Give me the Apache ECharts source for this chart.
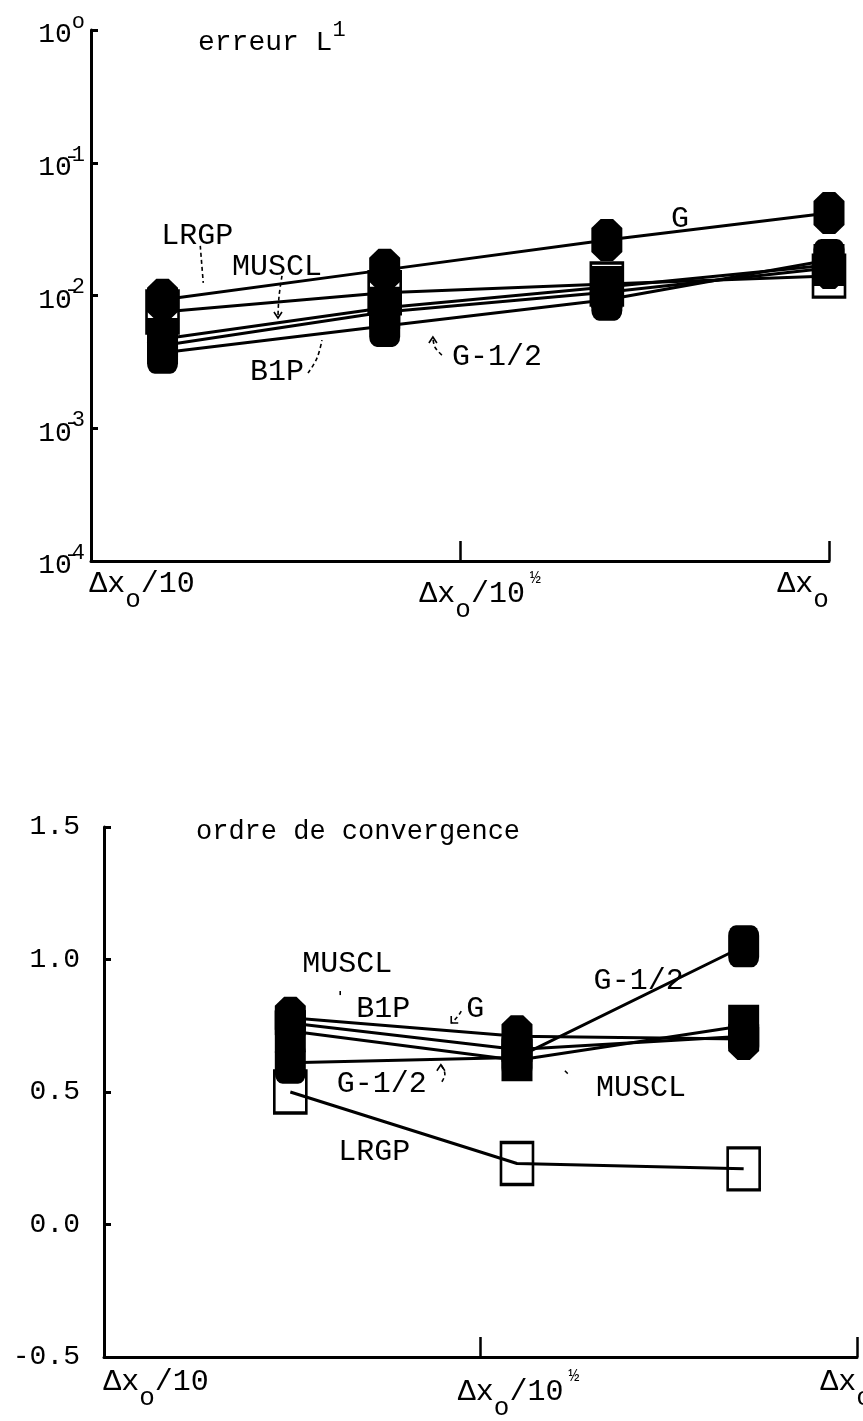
<!DOCTYPE html>
<html>
<head>
<meta charset="utf-8">
<script src="https://cdn.jsdelivr.net/npm/echarts@6/dist/echarts.min.js"></script>
<style>
  html, body { margin: 0; padding: 0; background: #fff; overflow: hidden; }
  #chart { width: 920px; height: 1421px; }
</style>
</head>
<body>
<div id="chart"></div>
<script>
// Mesh sizes, as fractions of the coarse step Δx0
const meshFractions = [1 / 8, 1 / 4, 1 / 2, 1];

// L1 error for each scheme on the four meshes
const errLRGP  = [0.0075, 0.0105, 0.0122, 0.0140];
const errMUSCL = [0.0047, 0.0081, 0.0116, 0.0170];
const errB1P   = [0.0042, 0.0075, 0.0106, 0.0161];
const errGhalf = [0.0037, 0.0059, 0.0093, 0.0185];
const errG     = [0.0093, 0.0156, 0.0262, 0.0418];

// Observed order of convergence between consecutive meshes
const ordLRGP  = [0.50, 0.23, 0.21];
const ordMUSCL = [0.73, 0.62, 0.75];
const ordB1P   = [0.76, 0.66, 0.71];
const ordGhalf = [0.61, 0.63, 1.05];
const ordG     = [0.78, 0.71, 0.70];

// Axis ticks
const errTicks = [1, 0.1, 0.01, 0.001, 0.0001];
const orderTicks = [-0.5, 0.0, 0.5, 1.0, 1.5];
// x tick labels: [base, subscript, denominator, exponent]
const xTickLabels = [
  ['Δx', 'o', '/10', ''],
  ['Δx', 'o', '/10', '½'],
  ['Δx', 'o', '', '']
];

const FONT = '"Liberation Mono", "DejaVu Sans Mono", monospace';
const INK = '#000';
const OCT = 'path://M3,0 L7,0 L10,3 L10,11 L7,14 L3,14 L0,11 L0,3 Z';

const xErr = meshFractions.map(f => Math.log10(f));
const xOrd = xErr.slice(1).map((v, i) => (v + xErr[i]) / 2);

const schemes = [
  { name: 'LRGP',  err: errLRGP,  ord: ordLRGP,  symbol: 'rect',  open: true },
  { name: 'MUSCL', err: errMUSCL, ord: ordMUSCL, symbol: 'rect' },
  { name: 'B1P',   err: errB1P,   ord: ordB1P,   symbol: OCT },
  { name: 'G-1/2', err: errGhalf, ord: ordGhalf, symbol: 'roundRect' },
  { name: 'G',     err: errG,     ord: ordG,     symbol: OCT }
];

function makeSeries(s, gridIdx, xs, ys) {
  return {
    type: 'line',
    name: s.name,
    xAxisIndex: gridIdx,
    yAxisIndex: gridIdx,
    data: xs.map((x, i) => [x, ys[i]]),
    symbol: s.symbol,
    symbolSize: s.open ? [32, 42] : [31, 42],
    showSymbol: true,
    lineStyle: { color: INK, width: 3 },
    itemStyle: s.open
      ? { color: 'rgba(255,255,255,0)', borderColor: INK, borderWidth: 3 }
      : { color: INK, borderColor: INK, borderWidth: 0 },
    emphasis: { disabled: true },
    animation: false
  };
}

const series = [];
schemes.forEach(s => series.push(makeSeries(s, 0, xErr, s.err)));
schemes.forEach(s => series.push(makeSeries(s, 1, xOrd, s.ord)));

// Rich styles for the Δx tick labels; the p*/q* tokens are blank spacers that shift each label off its tick
const xRich = {
  b:   { fontFamily: FONT, fontSize: 30, color: INK, verticalAlign: 'bottom', padding: [0, 0, 14, 0] },
  sub: { fontFamily: FONT, fontSize: 26, color: INK, verticalAlign: 'bottom' },
  sup: { fontFamily: FONT, fontSize: 18, color: INK, verticalAlign: 'bottom', padding: [0, 0, 36, 5] },
  pL0: { width: 102 }, pL1: { width: 40 }, pR2: { width: 52 },
  qL0: { width: 104 }, qL1: { width: 76 }, qR2: { width: 22 }
};

function xFormatter(prefix) {
  return function (value) {
    const i = Math.round((value + 1) * 2);
    const p = xTickLabels[i];
    if (!p) return '';
    let body = '{b|' + p[0] + '}{sub|' + p[1] + '}';
    if (p[2]) body += '{b|' + p[2] + '}';
    if (p[3]) body += '{sup|' + p[3] + '}';
    if (i === 0) return '{' + prefix + 'L0| }' + body;
    if (i === 1) return '{' + prefix + 'L1| }' + body;
    return body + '{' + prefix + 'R2| }';
  };
}

const yRich = {
  b: { fontFamily: FONT, fontSize: 28, color: INK, verticalAlign: 'bottom' },
  s: { fontFamily: FONT, fontSize: 22, color: INK, verticalAlign: 'bottom', padding: [0, 0, 16, 0] }
};

const axisLine = { show: true, onZero: false, lineStyle: { color: INK, width: 3 } };

const option = {
  backgroundColor: '#fff',
  animation: false,
  title: [
    {
      text: '{a|erreur L}{s|1}',
      left: 193, top: 14,
      textStyle: { fontWeight: 'normal', rich: {
        a: { fontFamily: FONT, fontSize: 28, fontWeight: 'normal', color: INK, verticalAlign: 'bottom' },
        s: { fontFamily: FONT, fontSize: 22, fontWeight: 'normal', color: INK, verticalAlign: 'bottom', padding: [0, 0, 16, 0] }
      } }
    },
    {
      text: 'ordre de convergence',
      left: 191, top: 813,
      textStyle: { fontFamily: FONT, fontSize: 27, fontWeight: 'normal', color: INK }
    }
  ],
  grid: [
    { left: 91, top: 30, width: 738, height: 531 },
    { left: 104, top: 827, width: 753, height: 539 }
  ],
  xAxis: [
    {
      type: 'value', gridIndex: 0, min: -1, max: 0, interval: 0.5,
      axisLine: axisLine,
      axisTick: { show: true, inside: true, length: 20, lineStyle: { color: INK, width: 2.5 } },
      splitLine: { show: false },
      axisLabel: { margin: 8, formatter: xFormatter('p'), rich: xRich, showMinLabel: true, showMaxLabel: true }
    },
    {
      type: 'value', gridIndex: 1, min: -1, max: 0, interval: 0.5,
      axisLine: axisLine,
      axisTick: { show: true, inside: true, length: 20, lineStyle: { color: INK, width: 2.5 } },
      splitLine: { show: false },
      axisLabel: { margin: 10, formatter: xFormatter('q'), rich: xRich, showMinLabel: true, showMaxLabel: true }
    }
  ],
  yAxis: [
    {
      type: 'log', gridIndex: 0, logBase: 10,
      min: errTicks[errTicks.length - 1], max: errTicks[0],
      axisLine: axisLine,
      axisTick: { show: true, inside: true, length: 7, lineStyle: { color: INK, width: 3 } },
      splitLine: { show: false },
      minorTick: { show: false },
      axisLabel: {
        margin: 6,
        rich: yRich,
        formatter: function (v) {
          const k = Math.round(Math.log10(v));
          if (k === 0) return '{b|10}{s|o}';
          return '{b|10\u0304}{s|' + (-k) + '}';
        }
      }
    },
    {
      type: 'value', gridIndex: 1,
      min: orderTicks[0], max: orderTicks[orderTicks.length - 1], interval: 0.5,
      axisLine: axisLine,
      axisTick: { show: true, inside: true, length: 7, lineStyle: { color: INK, width: 3 } },
      splitLine: { show: false },
      axisLabel: {
        margin: 24,
        fontFamily: FONT, fontSize: 28, color: INK,
        formatter: v => v.toFixed(1)
      }
    }
  ],
  series: series
};

const chart = echarts.init(document.getElementById('chart'));
chart.setOption(option);

// Scheme labels, placed in data coordinates; pointer strokes are pixel offsets from the label centre
const notesErr = [
  { text: 'G',     x: -0.202, y: 0.0377,  ptr: null },
  { text: 'LRGP',  x: -0.856, y: 0.0281,  ptr: [[3, 10], [6, 47]] },
  { text: 'MUSCL', x: -0.748, y: 0.0164,  ptr: [[5, 9], [2, 30], [1, 51]], arrow: 'down' },
  { text: 'B1P',   x: -0.748, y: 0.00265, ptr: [[31, 1], [40, -14], [45, -32]] },
  { text: 'G-1/2', x: -0.450, y: 0.00344, ptr: [[-55, -2], [-62, -10], [-64, -20]], arrow: 'up' }
];
const notesOrd = [
  { text: 'MUSCL', x: -0.677, y: 0.983, ptr: [[-7, 27], [-7, 33]] },
  { text: 'B1P',   x: -0.629, y: 0.813, ptr: null },
  { text: 'G',     x: -0.507, y: 0.813, ptr: [[-14, 2], [-18, 8], [-24, 14]], arrow: 'downleft' },
  { text: 'G-1/2', x: -0.631, y: 0.531, ptr: [[60, -2], [63, -10], [59, -19]], arrow: 'up' },
  { text: 'G-1/2', x: -0.290, y: 0.920, ptr: null },
  { text: 'MUSCL', x: -0.287, y: 0.516, ptr: [[-76, -17], [-71, -12]] },
  { text: 'LRGP',  x: -0.641, y: 0.275, ptr: null }
];

function buildNotes(notes, gridIdx) {
  const out = [];
  notes.forEach(n => {
    const c = chart.convertToPixel({ xAxisIndex: gridIdx, yAxisIndex: gridIdx }, [n.x, n.y]);
    out.push({
      type: 'text', x: c[0], y: c[1], silent: true,
      style: { text: n.text, fill: INK, font: '30px ' + FONT, align: 'center', verticalAlign: 'middle' }
    });
    if (n.ptr) {
      const pts = n.ptr.map(p => [c[0] + p[0], c[1] + p[1]]);
      out.push({
        type: 'polyline', silent: true,
        shape: { points: pts, smooth: 0.4 },
        style: { stroke: INK, lineWidth: 1.6, fill: null, lineDash: [4, 3] }
      });
      if (n.arrow) {
        const e = pts[pts.length - 1];
        let head;
        if (n.arrow === 'down') head = [[e[0] - 4, e[1] - 6], e, [e[0] + 4, e[1] - 6]];
        else if (n.arrow === 'up') head = [[e[0] - 4, e[1] + 6], e, [e[0] + 4, e[1] + 6]];
        else head = [[e[0], e[1] - 7], e, [e[0] + 7, e[1]]];
        out.push({
          type: 'polyline', silent: true,
          shape: { points: head },
          style: { stroke: INK, lineWidth: 1.6, fill: null }
        });
      }
    }
  });
  return out;
}

chart.setOption({ graphic: buildNotes(notesErr, 0).concat(buildNotes(notesOrd, 1)) });
</script>
</body>
</html>
